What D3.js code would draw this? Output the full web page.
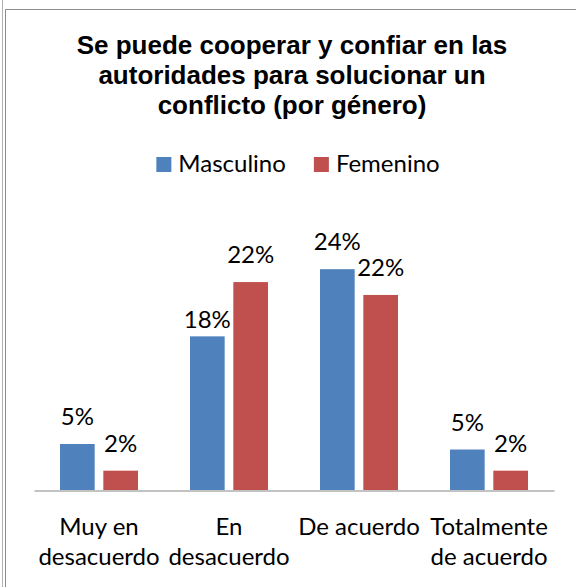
<!DOCTYPE html>
<html>
<head>
<meta charset="utf-8">
<script src="https://cdn.jsdelivr.net/npm/d3@7"></script>
<style>
  body { margin: 0; background: #fff; }
  text { font-family: Lato, "Liberation Sans", sans-serif; }
</style>
</head>
<body>
<script>
var categories = ["Muy en desacuerdo", "En desacuerdo", "De acuerdo", "Totalmente de acuerdo"];
var series = ["Masculino", "Femenino"];
var masculino = [5.0, 16.7, 24.0, 4.4];      // bar heights (%)
var femenino = [2.1, 22.6, 21.2, 2.1];
var masculinoLabels = ["5%", "18%", "24%", "5%"];
var femeninoLabels = ["2%", "22%", "22%", "2%"];
var colors = ["#4F81BD", "#C0504D"];

var width = 576,
    height = 587,
    base = 490;

var svg = d3.select("body")
  .append("svg")
    .attr("width", width)
    .attr("height", height);

// frame (double line on the left, open to right/bottom)
svg.append("line")
    .attr("x1", 2.5).attr("x2", 2.5).attr("y1", 0).attr("y2", height)
    .attr("stroke", "#b0b0b0");
svg.append("path")
    .attr("d", "M5.5," + height + "V9.5H" + width)
    .attr("fill", "none")
    .attr("stroke", "#8c8c8c");

// title
var title = ["Se puede cooperar y confiar en las", "autoridades para solucionar un", "conflicto (por género)"];
svg.append("text")
    .attr("text-anchor", "middle")
    .style("font-family", "'Liberation Sans', Arial, sans-serif")
    .style("font-weight", "bold")
    .style("font-size", "26px")
  .selectAll("tspan")
  .data(title)
  .enter()
  .append("tspan")
    .attr("x", 292)
    .attr("y", function(d, i) { return 53.5 + i * 30; })
    .text(function(d) { return d; });

// legend
var legend = svg.append("g");
var lx = 0;
series.forEach(function(s, i) {
  var item = legend.append("g").attr("transform", "translate(" + lx + ",0)");
  item.append("rect")
      .attr("x", 0).attr("y", 157)
      .attr("width", 15).attr("height", 15)
      .attr("fill", colors[i]);
  var t = item.append("text")
      .attr("x", 22).attr("y", 172)
      .style("font-size", "24px")
      .text(s);
  lx += 22 + t.node().getComputedTextLength() + 28;
});
var lw = lx - 28;
legend.attr("transform", "translate(" + (298 - lw / 2) + ",0)");

// scales
var x = d3.scaleBand()
    .domain(categories)
    .range([34, 554]);

var xs = d3.scaleBand()
    .domain(series)
    .range([26, 104])
    .paddingInner(0.2);

var y = d3.scaleLinear()
    .domain([0, 25])
    .range([base, base - 230]);

var rows = [];
categories.forEach(function(c, i) {
  rows.push({cat: c, s: "Masculino", v: masculino[i], label: masculinoLabels[i], color: colors[0]});
  rows.push({cat: c, s: "Femenino", v: femenino[i], label: femeninoLabels[i], color: colors[1]});
});

svg.selectAll("rect.bar")
  .data(rows)
  .enter()
  .append("rect")
    .attr("class", "bar")
    .attr("x", function(d) { return x(d.cat) + xs(d.s); })
    .attr("y", function(d) { return y(d.v); })
    .attr("width", xs.bandwidth())
    .attr("height", function(d) { return base - y(d.v); })
    .attr("fill", function(d) { return d.color; });

// data labels; the 18% one sits closer to its bar in the original
svg.selectAll("text.val")
  .data(rows)
  .enter()
  .append("text")
    .attr("class", "val")
    .attr("text-anchor", "middle")
    .style("font-size", "24px")
    .attr("x", function(d) { return x(d.cat) + xs(d.s) + xs.bandwidth() / 2; })
    .attr("y", function(d) {
      var off = (d.s == "Masculino" && d.cat == "En desacuerdo") ? 8 : 19;
      return y(d.v) - off;
    })
    .text(function(d) { return d.label; });

// x axis
var x_axis = d3.axisBottom(x).tickSize(0).tickPadding(0);
var gx = svg.append("g")
    .attr("transform", "translate(0," + (base + 0.5) + ")")
    .call(x_axis);
gx.select(".domain").attr("stroke", "#868686");
gx.selectAll(".tick text")
    .attr("dy", null)
    .style("font-family", "Lato, sans-serif")
    .style("font-size", "24px")
    .attr("fill", "#000")
    .each(function(d) {
      var el = d3.select(this);
      var words = d.split(" ");
      el.text(null);
      var line = [], lines = [];
      var probe = el.append("tspan");
      words.forEach(function(w) {
        line.push(w);
        probe.text(line.join(" "));
        if (probe.node().getComputedTextLength() > x.bandwidth() && line.length > 1) {
          line.pop();
          lines.push(line.join(" "));
          line = [w];
        }
      });
      lines.push(line.join(" "));
      probe.remove();
      lines.forEach(function(l, i) {
        el.append("tspan")
            .attr("x", 0)
            .attr("y", 44.5 + i * 30)
            .text(l);
      });
    });
</script>
</body>
</html>
